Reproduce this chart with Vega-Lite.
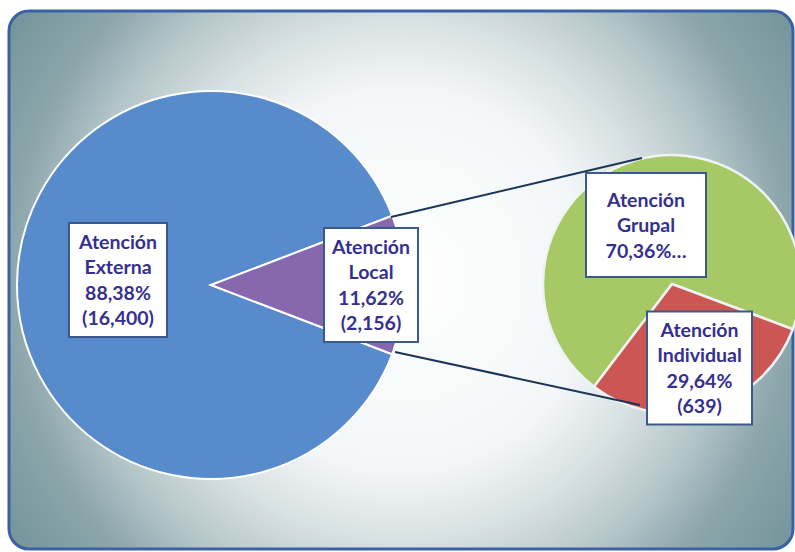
{
  "$schema": "https://vega.github.io/schema/vega-lite/v6.json",
  "width": 784,
  "height": 538,
  "padding": {"left": 9, "top": 11, "right": 2, "bottom": 3},
  "autosize": "none",
  "background": "white",
  "config": {"view": {"stroke": null}},
  "datasets": {
    "atenciones": [
      {"grafico": "Principal", "categoria": "Atención Externa", "porcentaje": 88.38, "casos": 16400, "etiqueta": "Atención\nExterna\n88,38%\n(16,400)"},
      {"grafico": "Principal", "categoria": "Atención Local", "porcentaje": 11.62, "casos": 2156, "etiqueta": "Atención\nLocal\n11,62%\n(2,156)"},
      {"grafico": "Secundario", "categoria": "Atención Grupal", "porcentaje": 70.36, "casos": 1517, "etiqueta": "Atención\nGrupal\n70,36%…"},
      {"grafico": "Secundario", "categoria": "Atención Individual", "porcentaje": 29.64, "casos": 639, "etiqueta": "Atención\nIndividual\n29,64%\n(639)"}
    ]
  },
  "layer": [
    {
      "data": {"values": [{"marco": "fondo"}]},
      "mark": {
        "type": "rect",
        "cornerRadius": 20,
        "stroke": "#3a62a3",
        "strokeWidth": 3,
        "fill": {
          "gradient": "radial",
          "x1": 0.5, "y1": 0.5, "r1": 0,
          "x2": 0.5, "y2": 0.5, "r2": 0.72,
          "stops": [
            {"offset": 0, "color": "#ffffff"},
            {"offset": 0.34, "color": "#f3f6f7"},
            {"offset": 0.46, "color": "#d8e1e3"},
            {"offset": 0.59, "color": "#b2c4c7"},
            {"offset": 0.69, "color": "#8ca6ab"},
            {"offset": 1, "color": "#5a8089"}
          ]
        }
      },
      "encoding": {}
    },
    {
      "data": {"name": "atenciones"},
      "transform": [{"filter": "datum.grafico === 'Principal'"}],
      "mark": {"type": "arc", "outerRadius": 194, "stroke": "white", "strokeWidth": 2},
      "encoding": {
        "x": {"field": "grafico", "type": "nominal", "axis": null, "scale": {"type": "point", "domain": ["Principal", "Secundario"], "range": [202, 663], "padding": 0}},
        "y": {"field": "grafico", "type": "nominal", "axis": null, "scale": {"type": "point", "domain": ["Principal", "Secundario"], "range": [274, 273], "padding": 0}},
        "theta": {"field": "porcentaje", "type": "quantitative", "stack": true, "scale": {"range": [1.2057, 7.4889]}},
        "order": {"field": "categoria", "sort": "descending"},
        "color": {"field": "categoria", "type": "nominal", "legend": null, "scale": {"domain": ["Atención Externa", "Atención Local", "Atención Grupal", "Atención Individual"], "range": ["#588bcb", "#8767ad", "#a6c965", "#cc5654"]}}
      }
    },
    {
      "data": {"name": "atenciones"},
      "transform": [{"filter": "datum.grafico === 'Secundario'"}],
      "mark": {"type": "arc", "outerRadius": 129, "stroke": "#eef3f4", "strokeWidth": 2.5},
      "encoding": {
        "x": {"field": "grafico", "type": "nominal", "axis": null, "scale": {"type": "point", "domain": ["Principal", "Secundario"], "range": [202, 663], "padding": 0}},
        "y": {"field": "grafico", "type": "nominal", "axis": null, "scale": {"type": "point", "domain": ["Principal", "Secundario"], "range": [274, 273], "padding": 0}},
        "theta": {"field": "porcentaje", "type": "quantitative", "stack": true, "scale": {"range": [1.929, 8.2122]}},
        "order": {"field": "categoria", "sort": "descending"},
        "color": {"field": "categoria", "type": "nominal", "legend": null, "scale": {"domain": ["Atención Externa", "Atención Local", "Atención Grupal", "Atención Individual"], "range": ["#588bcb", "#8767ad", "#a6c965", "#cc5654"]}}
      }
    },
    {
      "data": {"values": [{"conector": "superior"}]},
      "mark": {"type": "rule", "stroke": "#1b3558", "strokeWidth": 2},
      "encoding": {"x": {"value": 382}, "y": {"value": 206}, "x2": {"value": 633}, "y2": {"value": 147}}
    },
    {
      "data": {"values": [{"conector": "inferior"}]},
      "mark": {"type": "rule", "stroke": "#1b3558", "strokeWidth": 2},
      "encoding": {"x": {"value": 386}, "y": {"value": 341}, "x2": {"value": 631}, "y2": {"value": 394}}
    },
    {
      "data": {"name": "atenciones"},
      "transform": [{"filter": "datum.grafico === 'Principal'"}],
      "mark": {"type": "point", "filled": true, "fill": "white", "fillOpacity": 1, "stroke": "#3b5a8c", "strokeWidth": 2, "strokeOpacity": 1, "opacity": 1, "size": 4},
      "encoding": {
        "x": {"field": "categoria", "type": "nominal", "axis": null, "scale": {"type": "point", "domain": ["Atención Externa", "Atención Local"], "range": [109, 362], "padding": 0}},
        "y": {"field": "categoria", "type": "nominal", "axis": null, "scale": {"type": "point", "domain": ["Atención Externa", "Atención Local"], "range": [269, 274], "padding": 0}},
        "shape": {"field": "categoria", "type": "nominal", "legend": null, "scale": {"domain": ["Atención Externa", "Atención Local"], "range": ["M-49,-57H49V57H-49Z", "M-47,-57H47V57H-47Z"]}}
      }
    },
    {
      "data": {"name": "atenciones"},
      "transform": [{"filter": "datum.grafico === 'Principal'"}],
      "mark": {"type": "text", "font": "Lato", "fontWeight": "bold", "fontSize": 19.5, "color": "#35308f", "lineBreak": "\n", "lineHeight": 25.5, "align": "center", "baseline": "middle"},
      "encoding": {
        "x": {"field": "categoria", "type": "nominal", "axis": null, "scale": {"type": "point", "domain": ["Atención Externa", "Atención Local"], "range": [109, 362], "padding": 0}},
        "y": {"field": "categoria", "type": "nominal", "axis": null, "scale": {"type": "point", "domain": ["Atención Externa", "Atención Local"], "range": [231.5, 236.5], "padding": 0}},
        "text": {"field": "etiqueta", "type": "nominal"}
      }
    },
    {
      "data": {"name": "atenciones"},
      "transform": [{"filter": "datum.grafico === 'Secundario'"}],
      "mark": {"type": "point", "filled": true, "fill": "white", "fillOpacity": 1, "stroke": "#3b5a8c", "strokeWidth": 2, "strokeOpacity": 1, "opacity": 1, "size": 4},
      "encoding": {
        "x": {"field": "categoria", "type": "nominal", "axis": null, "scale": {"type": "point", "domain": ["Atención Grupal", "Atención Individual"], "range": [637, 690.5], "padding": 0}},
        "y": {"field": "categoria", "type": "nominal", "axis": null, "scale": {"type": "point", "domain": ["Atención Grupal", "Atención Individual"], "range": [214, 357], "padding": 0}},
        "shape": {"field": "categoria", "type": "nominal", "legend": null, "scale": {"domain": ["Atención Grupal", "Atención Individual"], "range": ["M-60,-52H60V52H-60Z", "M-52.5,-56.5H52.5V56.5H-52.5Z"]}}
      }
    },
    {
      "data": {"name": "atenciones"},
      "transform": [{"filter": "datum.grafico === 'Secundario'"}],
      "mark": {"type": "text", "font": "Lato", "fontWeight": "bold", "fontSize": 19.5, "color": "#35308f", "lineBreak": "\n", "lineHeight": 25.5, "align": "center", "baseline": "middle"},
      "encoding": {
        "x": {"field": "categoria", "type": "nominal", "axis": null, "scale": {"type": "point", "domain": ["Atención Grupal", "Atención Individual"], "range": [637, 690.5], "padding": 0}},
        "y": {"field": "categoria", "type": "nominal", "axis": null, "scale": {"type": "point", "domain": ["Atención Grupal", "Atención Individual"], "range": [189.5, 319.5], "padding": 0}},
        "text": {"field": "etiqueta", "type": "nominal"}
      }
    }
  ],
  "resolve": {"scale": {"x": "independent", "y": "independent", "theta": "independent", "shape": "independent", "color": "independent"}}
}
